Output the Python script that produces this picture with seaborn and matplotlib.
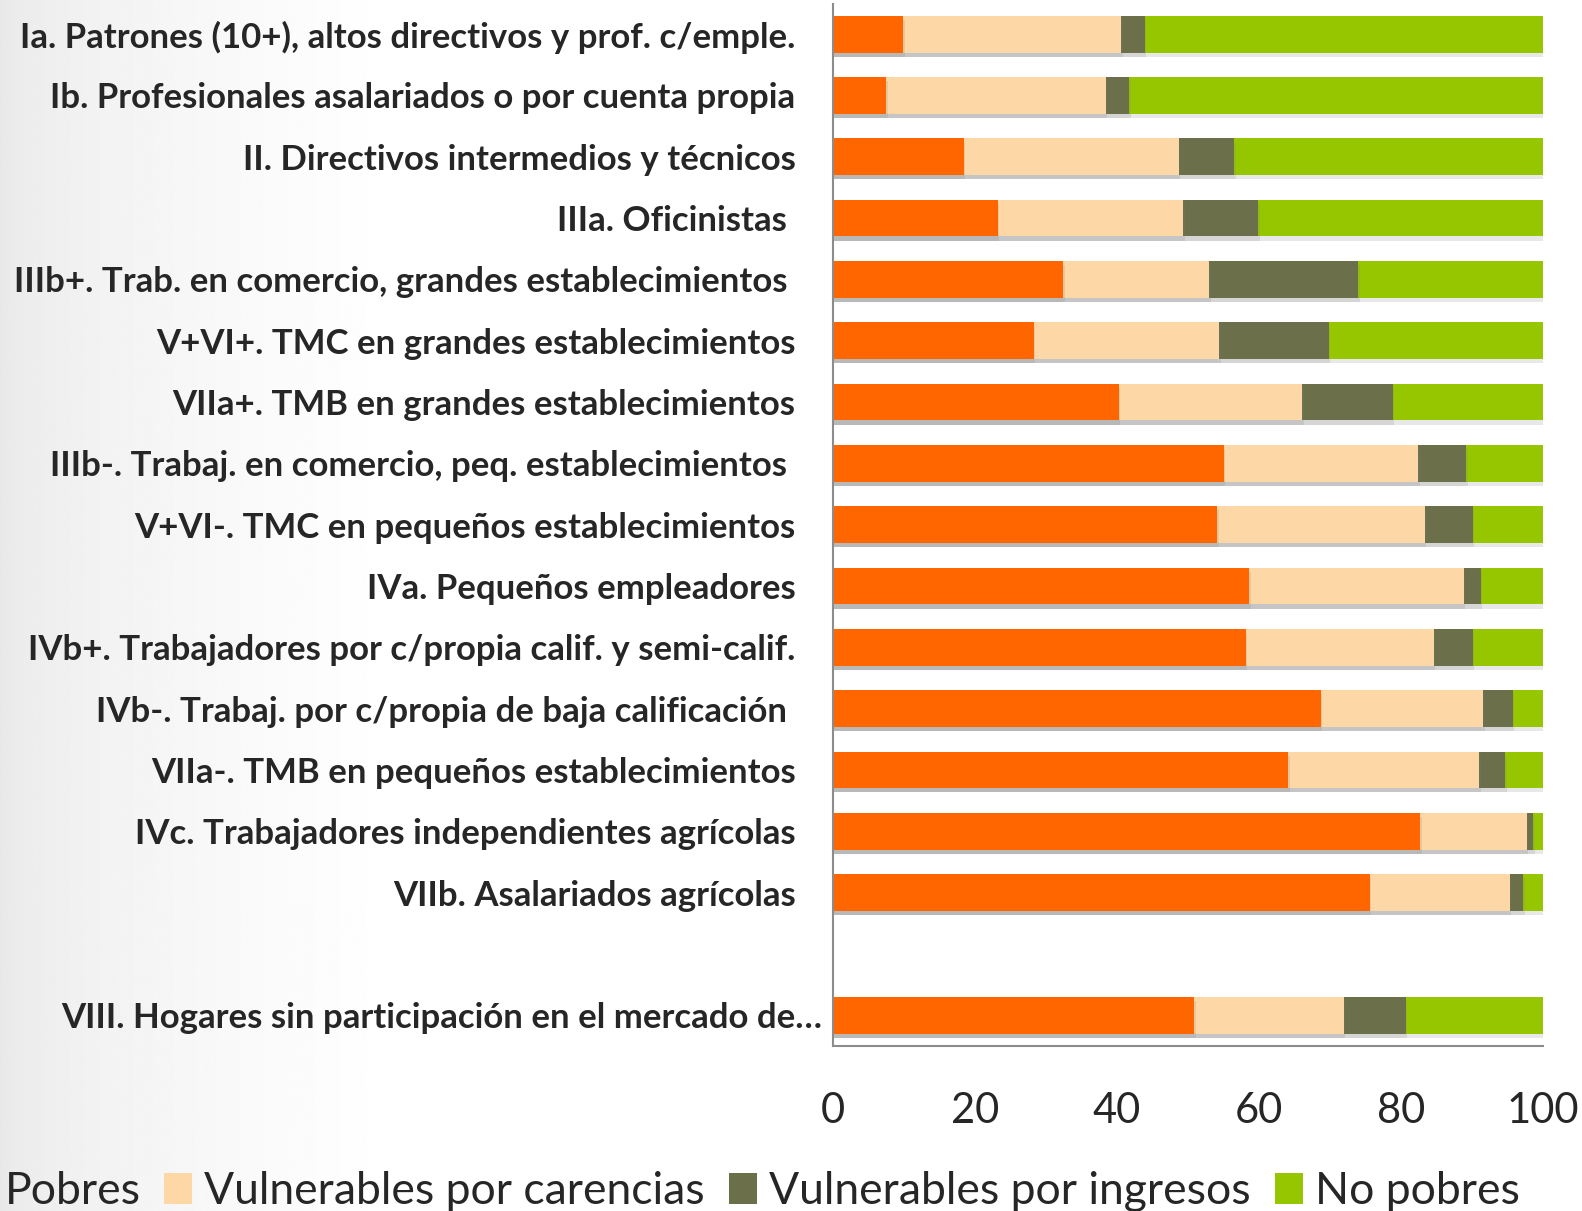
"""Stacked 100% bars: poverty status by social class."""

import matplotlib

matplotlib.use("Agg")

import matplotlib.patheffects as pe
import matplotlib.pyplot as plt
import numpy as np
import pandas as pd
import seaborn as sns
from matplotlib.patches import Patch

CLASSES = [
    "Ia. Patrones (10+), altos directivos y prof. c/emple.",
    "Ib. Profesionales asalariados o por cuenta propia",
    "II. Directivos intermedios y técnicos",
    "IIIa. Oficinistas ",
    "IIIb+. Trab. en comercio, grandes establecimientos ",
    "V+VI+. TMC en grandes establecimientos",
    "VIIa+. TMB en grandes establecimientos",
    "IIIb-. Trabaj. en comercio, peq. establecimientos ",
    "V+VI-. TMC en pequeños establecimientos",
    "IVa. Pequeños empleadores",
    "IVb+. Trabajadores por c/propia calif. y semi-calif.",
    "IVb-. Trabaj. por c/propia de baja calificación ",
    "VIIa-. TMB en pequeños establecimientos",
    "IVc. Trabajadores independientes agrícolas",
    "VIIb. Asalariados agrícolas",
    " ",
    "VIII. Hogares sin participación en el mercado de…",
]

# shares in % (blank row is the gap before VIII)
POBRES = [9.9, 7.5, 18.4, 23.2, 32.4, 28.3, 40.2, 55.0, 54.1, 58.6,
          58.1, 68.7, 64.1, 82.7, 75.6, np.nan, 50.9]
VULN_CARENCIAS = [30.7, 30.9, 30.3, 26.1, 20.6, 26.1, 25.9, 27.4, 29.2, 30.2,
                  26.5, 22.9, 26.9, 15.0, 19.7, np.nan, 21.0]
VULN_INGRESOS = [3.3, 3.3, 7.8, 10.6, 21.0, 15.4, 12.7, 6.8, 6.8, 2.4,
                 5.5, 4.1, 3.7, 0.9, 1.9, np.nan, 8.8]
NO_POBRES = [56.1, 58.3, 43.5, 40.1, 26.0, 30.2, 21.2, 10.8, 9.9, 8.8,
             9.9, 4.3, 5.3, 1.4, 2.8, np.nan, 19.3]

SERIES = ["Pobres", "Vulnerables por carencias", "Vulnerables por ingresos", "No pobres"]
COLORS = ["#FF6600", "#FDD7A5", "#6B704B", "#95C600"]

df = pd.DataFrame({
    "clase": CLASSES,
    SERIES[0]: POBRES,
    SERIES[1]: VULN_CARENCIAS,
    SERIES[2]: VULN_INGRESOS,
    SERIES[3]: NO_POBRES,
})
cum = df[SERIES].cumsum(axis=1)
cum["clase"] = df["clase"]
cum = cum.dropna()

sns.set_style("white")
plt.rcParams["font.family"] = ["Lato", "DejaVu Sans"]

fig = plt.figure(figsize=(15.82, 12.11), dpi=100)

# faint grey wash on the left side of the slide
bg = fig.add_axes([0, 0, 1, 1], zorder=-1)
grad = np.linspace(0, 1, 256) ** 0.6 * 0.09 + 0.91
bg.imshow(np.tile(grad, (2, 1)), cmap="gray", vmin=0, vmax=1,
          aspect="auto", extent=[0, 0.25, 0, 1])
bg.set_xlim(0, 1)
bg.set_ylim(0, 1)
bg.axis("off")

ax = fig.add_axes([0.5266, 0.1364, 0.4488, 0.8607])
ax.patch.set_alpha(0)

# draw cumulative totals back to front so each series sits on top
shadow = [pe.SimplePatchShadow(offset=(1, -3), alpha=0.18, shadow_rgbFace="gray"), pe.Normal()]
for name, color in reversed(list(zip(SERIES, COLORS))):
    sns.barplot(data=cum, x=name, y="clase", order=CLASSES, orient="y",
                color=color, width=0.6, linewidth=0, saturation=1, ax=ax)
for bar in ax.patches:
    bar.set_path_effects(shadow)

ax.set_xlim(0, 100)
ax.set_xticks([0, 20, 40, 60, 80, 100])
ax.set_xlabel("")
ax.set_ylabel("")
sns.despine(ax=ax, top=True, right=True)
for side in ["left", "bottom"]:
    ax.spines[side].set_color("#8C8C8C")
    ax.spines[side].set_linewidth(1.5)

ax.tick_params(axis="x", length=0, pad=33, labelsize=30)
ax.tick_params(axis="y", length=0, pad=27, labelsize=25)
for lbl in ax.get_yticklabels():
    lbl.set_fontweight("bold")
# last label sits closer to the axis in the original
ax.get_yticklabels()[-1].set_x(0.037)

handles = [Patch(facecolor=c, edgecolor="none") for c in COLORS]
fig.legend(handles, SERIES, loc="center", bbox_to_anchor=(0.469, 0.016),
           ncol=4, frameon=False, fontsize=32, handlelength=0.63,
           handleheight=0.7, handletextpad=0.27, columnspacing=0.54,
           borderaxespad=0)

fig.savefig("out.png", dpi=100)
plt.close(fig)
